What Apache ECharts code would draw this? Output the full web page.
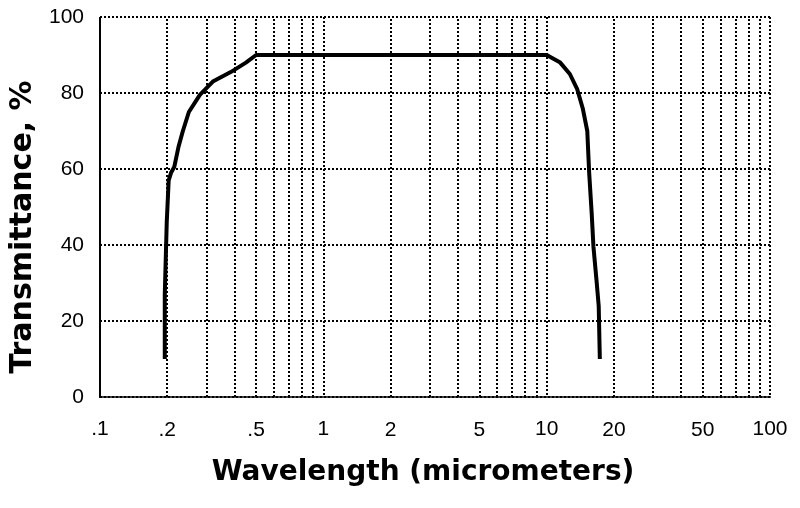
<!DOCTYPE html>
<html>
<head>
<meta charset="utf-8">
<script src="https://cdn.jsdelivr.net/npm/echarts@6/dist/echarts.min.js"></script>
<style>
html,body{margin:0;padding:0;background:#fff;}
#chart{width:800px;height:508px;}
</style>
</head>
<body>
<div id="chart"></div>
<script>
// Wavelength (micrometers) and transmittance (%)
var wavelength = [0.195,0.195,0.199,0.199,0.203,0.203,0.208,0.215,0.225,0.235,0.25,0.28,0.32,0.385,0.45,0.5,10,11.5,12.7,13.7,14.5,15.2,15.5,15.9,16.2,16.7,17.1,17.3];
var transmittance = [10,27,27,46,46,57,59,60.5,66,70,75,79.5,83,85.5,88,90,90,88,85,81,76,70,59,48.5,39.5,31,24,10];
// Minor vertical grid lines
var minorGrid = [0.2,0.3,0.4,0.5,0.6,0.7,0.8,0.9,2,3,4,5,6,7,8,9,20,30,40,50,60,70,80,90];
// Extra tick labels (besides the decades)
var extraTicks = [0.2,0.5,2,5,20,50];
var extraTickLabels = ['.2','.5','2','5','20','50'];
var yTicks = [0,20,40,60,80,100];

var dotted = {color:'#000', width:2, type:[2,2]};
var points = wavelength.map(function(w,i){return [w, transmittance[i]];});

var markData = minorGrid.map(function(v){
  var k = extraTicks.indexOf(v);
  return {
    xAxis: v,
    label: k >= 0 ? {show:true, formatter: extraTickLabels[k]} : {show:false}
  };
});

var chart = echarts.init(document.getElementById('chart'));
chart.setOption({
  animation:false,
  backgroundColor:'#fff',
  grid:{left:100, right:30, top:17, bottom:111},
  xAxis:{
    type:'log', logBase:10, min:0.1, max:100,
    name:'Wavelength (micrometers)', nameLocation:'middle', nameGap:62,
    nameTextStyle:{fontFamily:'DejaVu Sans', fontWeight:'bold', fontSize:28, color:'#000', padding:[0,24,0,0]},
    axisLine:{show:true, lineStyle:dotted},
    axisTick:{show:false},
    splitLine:{show:true, lineStyle:dotted},
    axisLabel:{
      fontFamily:'Liberation Sans', fontSize:21, color:'#000', margin:22,
      formatter:function(v){ return v < 1 ? '.' + String(v).split('.')[1] : String(v); }
    }
  },
  yAxis:{
    type:'value', min:yTicks[0], max:yTicks[yTicks.length-1], interval:20,
    name:'Transmittance, %', nameLocation:'middle', nameGap:62,
    nameTextStyle:{fontFamily:'DejaVu Sans', fontWeight:'bold', fontSize:30, color:'#000', padding:[0,40,0,0]},
    axisLine:{show:true, lineStyle:dotted},
    axisTick:{show:false},
    splitLine:{show:true, lineStyle:dotted},
    axisLabel:{fontFamily:'Liberation Sans', fontSize:21, color:'#000', margin:16}
  },
  series:[{
    type:'line',
    data:points,
    showSymbol:false,
    lineStyle:{color:'#000', width:4},
    z:5,
    markLine:{
      silent:true,
      symbol:['none','none'],
      lineStyle:dotted,
      label:{position:'start', distance:23, fontFamily:'Liberation Sans', fontSize:21, color:'#000'},
      data:markData
    }
  }]
});
</script>
</body>
</html>
